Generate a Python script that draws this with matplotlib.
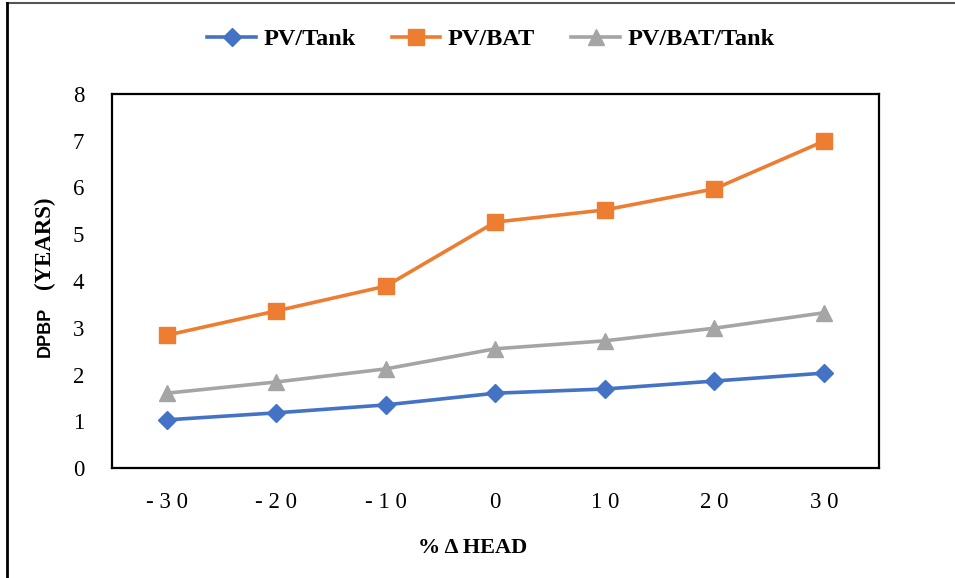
import matplotlib
matplotlib.use("Agg")
import matplotlib.pyplot as plt
from matplotlib.lines import Line2D

categories = ["-30", "-20", "-10", "0", "10", "20", "30"]
pv_tank = [1.03, 1.18, 1.35, 1.60, 1.69, 1.86, 2.03]
pv_bat = [2.84, 3.36, 3.89, 5.26, 5.52, 5.97, 6.99]
pv_bat_tank = [1.60, 1.84, 2.12, 2.55, 2.72, 2.99, 3.32]
yticks = [0, 1, 2, 3, 4, 5, 6, 7, 8]

fig = plt.figure(figsize=(9.55, 5.78), dpi=100)
ax = fig.add_axes([0.1173, 0.1903, 0.8027, 0.6471])

x = list(range(len(categories)))
serif = "Liberation Serif"
ax.plot(x, pv_tank, color="#4472C4", lw=2.6, marker="D", ms=9, label="PV/Tank")
ax.plot(x, pv_bat, color="#ED7D31", lw=2.6, marker="s", ms=11, label="PV/BAT")
ax.plot(x, pv_bat_tank, color="#A5A5A5", lw=2.6, marker="^", ms=11, label="PV/BAT/Tank")

ax.set_xlim(-0.5, len(categories) - 0.5)
ax.set_ylim(0, 8)
ax.set_yticks(yticks)
ax.set_yticklabels([str(v) for v in yticks], fontfamily=serif, fontsize=16.5)
ax.set_xticks(x)
ax.set_xticklabels([" ".join(c) for c in categories], fontfamily=serif, fontsize=16.5)
ax.tick_params(axis="both", length=0)
ax.tick_params(axis="x", pad=17)
ax.tick_params(axis="y", pad=20)
for s in ax.spines.values():
    s.set_linewidth(1.6)
    s.set_color("black")

# y label: mixed fonts
fig.text(0.047, 0.426, "DPBP", rotation=90, ha="center", va="center",
         fontfamily="Liberation Sans", fontweight="bold", fontsize=13)
fig.text(0.047, 0.580, "(YEARS)", rotation=90, ha="center", va="center",
         fontfamily=serif, fontweight="bold", fontsize=16.5)

fig.text(0.495, 0.052, "% Δ HEAD", ha="center", va="center",
         fontfamily=serif, fontweight="bold", fontsize=16)

leg = fig.legend(loc="center", bbox_to_anchor=(0.514, 0.932), ncol=3, frameon=False,
                 prop={"family": serif, "weight": "bold", "size": 17.5},
                 handlelength=2.0, columnspacing=1.5, handletextpad=0.3)

# figure border (top and left)
fig.add_artist(Line2D([0.007, 1.0], [0.995, 0.995], transform=fig.transFigure, color="#555555", lw=1.5))
fig.add_artist(Line2D([0.0075, 0.0075], [0.0, 0.995], transform=fig.transFigure, color="black", lw=2))

fig.savefig("out.png", dpi=100)
